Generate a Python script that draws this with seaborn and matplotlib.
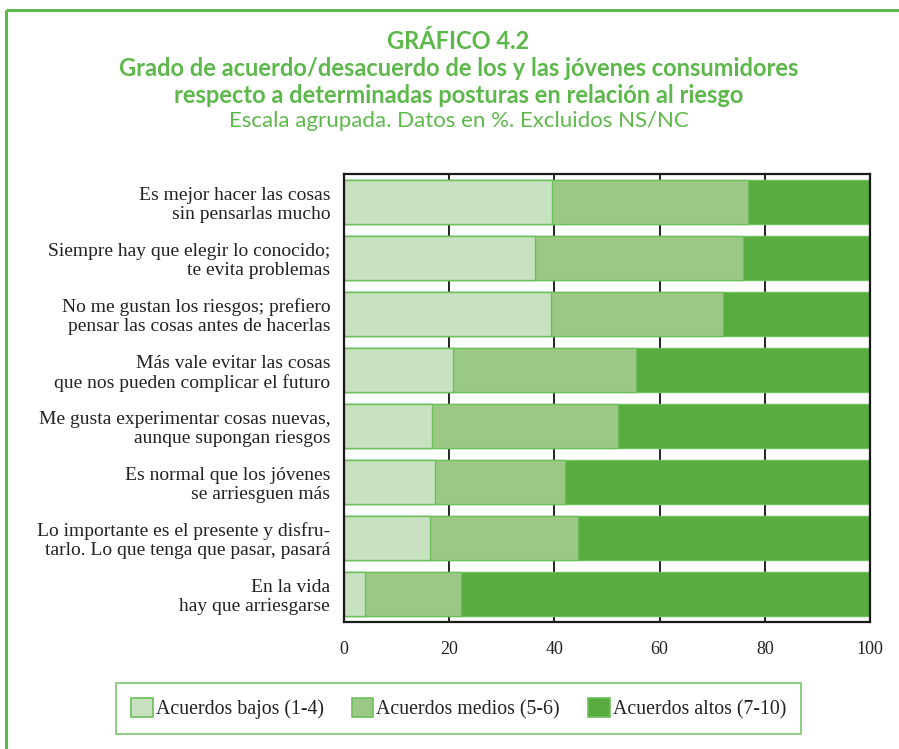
import matplotlib
matplotlib.use("Agg")
import matplotlib.pyplot as plt
from matplotlib.patches import Patch
from matplotlib.lines import Line2D
import seaborn as sns
import numpy as np
import pandas as pd

# --- data (% of respondents) ---
posturas = [
    "Es mejor hacer las cosas\nsin pensarlas mucho",
    "Siempre hay que elegir lo conocido;\nte evita problemas",
    "No me gustan los riesgos; prefiero\npensar las cosas antes de hacerlas",
    "Más vale evitar las cosas\nque nos pueden complicar el futuro",
    "Me gusta experimentar cosas nuevas,\naunque supongan riesgos",
    "Es normal que los jóvenes\nse arriesguen más",
    "Lo importante es el presente y disfru-\ntarlo. Lo que tenga que pasar, pasará",
    "En la vida\nhay que arriesgarse",
]
bajos = [39.5, 36.3, 39.3, 20.8, 16.7, 17.2, 16.4, 3.9]
medios = [37.3, 39.5, 32.7, 34.8, 35.3, 24.9, 28.1, 18.4]
altos = [23.2, 24.2, 28.0, 44.4, 48.0, 57.9, 55.5, 77.7]
series = ["Acuerdos bajos (1-4)", "Acuerdos medios (5-6)", "Acuerdos altos (7-10)"]

GREEN = "#5cb84a"
EDGE = "#6cbf5a"
colors = ["#c8e1c0", "#9cc886", "#57ab3f"]

df = pd.DataFrame({"postura": posturas, "bajos": bajos, "medios": medios, "altos": altos})
df["c1"] = df["bajos"]
df["c2"] = df["bajos"] + df["medios"]
df["c3"] = df["c2"] + df["altos"]

sns.set_theme(style="white")
plt.rcParams["font.family"] = ["Liberation Serif", "DejaVu Serif"]

fig = plt.figure(figsize=(8.99, 7.49), dpi=100)
ax = fig.add_axes([0.3827, 0.1696, 0.585, 0.5981])

# vertical grid behind bars
ax.set_axisbelow(True)
ax.grid(axis="x", color="black", linewidth=1.2)

# stacked: draw cumulative totals from the back
for col, c in zip(["c3", "c2", "c1"], colors[::-1]):
    sns.barplot(data=df, x=col, y="postura", orient="h", color=c,
                edgecolor=EDGE, linewidth=1.0, width=0.8, saturation=1, ax=ax)

ax.set_xlim(0, 100)
ax.set_ylim(7.5, -0.5)
ax.set_xticks([0, 20, 40, 60, 80, 100])
ax.set_xlabel("")
ax.set_ylabel("")
ax.tick_params(axis="x", labelsize=13, pad=14, length=0, colors="#222222")
ax.tick_params(axis="y", labelsize=14, pad=10, length=0, colors="#222222")
for lab in ax.get_yticklabels():
    lab.set_horizontalalignment("right")
    lab.set_multialignment("right")
    lab.set_linespacing(1.15)
for s in ax.spines.values():
    s.set_color("#1a1a1a")
    s.set_linewidth(1.6)
    s.set_visible(True)

# titles
tfont = ["Lato", "DejaVu Sans"]
fig.text(0.51, 0.945, "GRÁFICO 4.2", ha="center", va="center", color=GREEN,
         fontsize=17, fontweight="bold", family=tfont)
fig.text(0.51, 0.909, "Grado de acuerdo/desacuerdo de los y las jóvenes consumidores",
         ha="center", va="center", color=GREEN, fontsize=17, fontweight="bold", family=tfont)
fig.text(0.51, 0.873, "respecto a determinadas posturas en relación al riesgo",
         ha="center", va="center", color=GREEN, fontsize=17, fontweight="bold", family=tfont)
fig.text(0.51, 0.838, "Escala agrupada. Datos en %. Excluidos NS/NC",
         ha="center", va="center", color=GREEN, fontsize=16, family=tfont)

# outer frame (left and top green rules)
fig.add_artist(Line2D([6 / 899, 6 / 899], [0, 1 - 10 / 749], transform=fig.transFigure,
                      color=GREEN, linewidth=2.2, solid_capstyle="butt"))
fig.add_artist(Line2D([6 / 899, 1], [1 - 10 / 749, 1 - 10 / 749], transform=fig.transFigure,
                      color=GREEN, linewidth=2.2, solid_capstyle="butt"))

handles = [Patch(facecolor=c, edgecolor=EDGE, linewidth=1.2) for c in colors]
leg = fig.legend(handles, series, loc="center", bbox_to_anchor=(0.51, 0.054), ncol=3,
                 frameon=True, fancybox=False, fontsize=14.3, handlelength=1.1,
                 handleheight=1.1, handletextpad=0.15, columnspacing=1.4,
                 borderpad=0.75, borderaxespad=0)
leg.get_frame().set_edgecolor(GREEN)
leg.get_frame().set_linewidth(1.2)
for t in leg.get_texts():
    t.set_color("#222222")

fig.savefig("out.png", dpi=100, facecolor="white")
